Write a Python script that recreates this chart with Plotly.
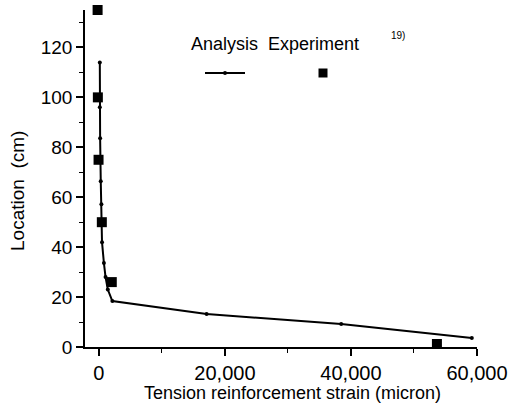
import plotly.graph_objects as go

# Analysis (line with small dots)
ana_strain = [150, 150, 200, 300, 400, 470, 500, 800, 1060, 1420, 2140, 17100, 38450, 59180]
ana_loc = [114, 96, 83.6, 66.4, 57.2, 48.8, 42, 33.6, 28, 23, 18.4, 13.2, 9.2, 3.6]

# Experiment (squares)
exp_strain = [-200, -160, -50, 470, 2050, 53640]
exp_loc = [135, 100, 75, 50, 26, 1.2]

x_ticks = [0, 20000, 40000, 60000]
x_ticklabels = ["0", "20,000", "40,000", "60,000"]
y_ticks = [0, 20, 40, 60, 80, 100, 120]

FONT = "Liberation Sans, Arial, Helvetica, sans-serif"

fig = go.Figure()
fig.add_trace(go.Scatter(
    x=ana_strain, y=ana_loc, mode="lines+markers", name="Analysis",
    line=dict(color="black", width=2),
    marker=dict(color="black", size=4),
    cliponaxis=False, showlegend=False,
))
fig.add_trace(go.Scatter(
    x=exp_strain, y=exp_loc, mode="markers", name="Experiment",
    marker=dict(color="black", size=10, symbol="square"),
    cliponaxis=False, showlegend=False,
))

fig.update_layout(
    width=518, height=413,
    margin=dict(l=85, r=41, t=10, b=66),
    paper_bgcolor="white", plot_bgcolor="white",
    font=dict(family=FONT, color="black", size=18),
    showlegend=False,
)
fig.update_xaxes(
    range=[-2200, 60000], showline=True, linecolor="black", linewidth=1.5,
    showgrid=False, zeroline=False,
    tickmode="array", tickvals=x_ticks, ticktext=x_ticklabels,
    ticks="outside", ticklen=7, tickwidth=1.5, tickcolor="black",
    tickfont=dict(size=20),
    minor=dict(dtick=10000, tick0=0, ticks="outside", ticklen=4, tickcolor="black", tickwidth=1),
)
fig.update_yaxes(
    range=[0, 135], showline=True, linecolor="black", linewidth=1.5,
    showgrid=False, zeroline=False,
    tickmode="array", tickvals=y_ticks,
    ticks="outside", ticklen=7, tickwidth=1.5, tickcolor="black",
    tickfont=dict(size=19),
    minor=dict(dtick=10, tick0=0, ticks="outside", ticklen=4, tickcolor="black", tickwidth=1),
)

# axis titles (pixel positions, converted below)
fig.add_annotation(x=292, y=393, text="Tension reinforcement strain (micron)",
                   showarrow=False, font=dict(size=18))
fig.add_annotation(x=17, y=191, text="Location&nbsp;&nbsp;(cm)", textangle=-90, showarrow=False,
                   font=dict(size=19))

# legend text
fig.add_annotation(x=224, y=44, text="Analysis", showarrow=False, font=dict(size=18))
fig.add_annotation(x=313, y=44, text="Experiment", showarrow=False, font=dict(size=18))
fig.add_annotation(x=398, y=35, text="19)", showarrow=False, font=dict(size=10))

PW = 518 - 85 - 41
PH = 413 - 10 - 66


def px_to_paper(xp, yp):
    return (xp - 85) / PW, 1 - (yp - 10) / PH


for a in fig.layout.annotations:
    px, py = px_to_paper(a.x, a.y)
    a.x, a.y = px, py
    a.xref, a.yref = "paper", "paper"
    a.xanchor, a.yanchor = "center", "middle"

# legend keys
x0, y0 = px_to_paper(205, 73)
x1, _ = px_to_paper(245, 73)
fig.add_shape(type="line", xref="paper", yref="paper", x0=x0, x1=x1, y0=y0, y1=y0,
              line=dict(color="black", width=2))
dx, dy = px_to_paper(225, 73)
fig.add_shape(type="circle", xref="paper", yref="paper",
              x0=dx - 2 / PW, x1=dx + 2 / PW, y0=dy - 2 / PH, y1=dy + 2 / PH,
              fillcolor="black", line=dict(color="black", width=0))
sx, sy = px_to_paper(323, 73)
fig.add_shape(type="rect", xref="paper", yref="paper",
              x0=sx - 4.5 / PW, x1=sx + 4.5 / PW, y0=sy - 4.5 / PH, y1=sy + 4.5 / PH,
              fillcolor="black", line=dict(color="black", width=0))

fig.write_html("out.html")
